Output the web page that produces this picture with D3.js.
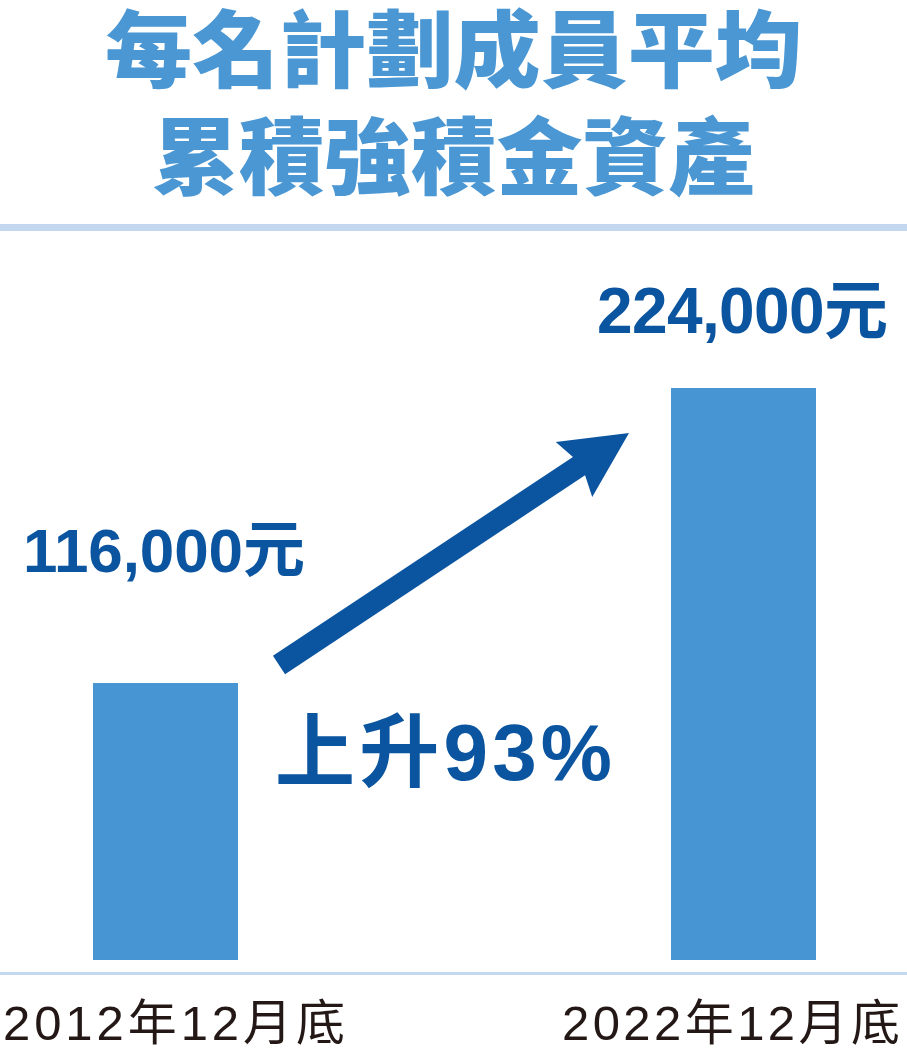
<!DOCTYPE html>
<html><head><meta charset="utf-8">
<script src="https://cdn.jsdelivr.net/npm/d3@7/dist/d3.min.js"></script>
<style>
html,body{margin:0;padding:0;background:#fff;}
svg{display:block;}
</style></head>
<body>
<svg id="chart" width="907" height="1051"></svg>
<script>
const titleLines = ["每名計劃成員平均", "累積強積金資產"];
const categories = ["2012年12月底", "2022年12月底"];
const values = [116000, 224000];
const valueLabels = ["116,000元", "224,000元"];
const changeLabel = "上升93%";

const svg = d3.select("#chart");
const W = 907, H = 1051;

const BAR = "#4795d2", DARK = "#0b55a0", TITLE = "#4a97d3", RULE = "#c3d7ee";

// scales
const x = d3.scalePoint().domain(categories).range([165.5, 743.5]);
const bw = 145;
const xc = d => x(d);
const y = d3.scaleLinear().domain([14600, 224000]).range([960, 388]);

// title (one text element, two lines)
const title = svg.append("text")
  .attr("text-anchor", "middle")
  .attr("font-family", "'Noto Sans CJK TC', 'Noto Sans CJK SC', sans-serif")
  .attr("font-weight", 900)
  .attr("font-size", 84)
  .attr("fill", TITLE);
title.selectAll("tspan").data(titleLines).enter().append("tspan")
  .attr("x", W / 2)
  .attr("y", (d, i) => 81 + i * 107)
  .attr("textLength", (d, i) => i === 0 ? 697 : 602)
  .attr("lengthAdjust", "spacingAndGlyphs")
  .text(d => d);

// top rule
svg.append("rect").attr("x", 0).attr("y", 224).attr("width", W).attr("height", 7).attr("fill", RULE);

// bars
const data = categories.map((c, i) => ({ c, v: values[i], label: valueLabels[i] }));
svg.selectAll("rect.bar").data(data).enter().append("rect")
  .attr("class", "bar")
  .attr("x", d => xc(d.c) - bw / 2)
  .attr("width", bw)
  .attr("y", d => y(d.v))
  .attr("height", d => y.range()[0] - y(d.v))
  .attr("fill", BAR);

// baseline
svg.append("rect").attr("x", 0).attr("y", 972).attr("width", W).attr("height", 3).attr("fill", RULE);

// category labels
svg.selectAll("text.cat").data(categories).enter().append("text")
  .attr("class", "cat")
  .attr("x", (d, i) => i === 0 ? 3 : 562)
  .attr("y", 1040)
  .attr("font-family", "'Liberation Sans', 'Noto Sans CJK TC', sans-serif")
  .attr("font-size", 49)
  .attr("fill", "#231815")
  .attr("textLength", (d, i) => i === 0 ? 342 : 338)
  .attr("lengthAdjust", "spacing")
  .text(d => d);

// value labels
const vlPos = [
  { x: 23, y: 572, size: 62, len: 282 },
  { x: 597, y: 333, size: 64, len: 291 }
];
svg.selectAll("text.val").data(data).enter().append("text")
  .attr("class", "val")
  .attr("x", (d, i) => vlPos[i].x)
  .attr("y", (d, i) => vlPos[i].y)
  .attr("font-family", "'Liberation Sans', 'Noto Sans CJK TC', sans-serif")
  .attr("font-weight", "bold")
  .attr("font-size", (d, i) => vlPos[i].size)
  .attr("fill", DARK)
  .attr("textLength", (d, i) => vlPos[i].len)
  .attr("lengthAdjust", "spacing")
  .text(d => d.label);

// arrow derived from bars
const x0 = xc(categories[0]) + bw / 2 + 41, y0 = y(values[0]) - 18;
const x1 = xc(categories[1]) - bw / 2 - 42, y1 = y(values[1]) + 45;
const len = Math.hypot(x1 - x0, y1 - y0);
const ang = Math.atan2(y1 - y0, x1 - x0) * 180 / Math.PI;
const hw = 11, headL = 66, notch = 60, headW = 33;
const pts = [
  [0, -hw], [len - notch, -hw], [len - headL, -headW], [len, 0],
  [len - headL, headW], [len - notch, hw], [0, hw]
];
svg.append("polygon")
  .attr("points", pts.map(p => p.join(",")).join(" "))
  .attr("transform", `translate(${x0},${y0}) rotate(${ang})`)
  .attr("fill", DARK);

// change label
svg.append("text")
  .attr("x", 275).attr("y", 780)
  .attr("font-family", "'Liberation Sans', 'Noto Sans CJK TC', sans-serif")
  .attr("font-weight", "bold")
  .attr("font-size", 80)
  .attr("fill", DARK)
  .attr("textLength", 337)
  .attr("lengthAdjust", "spacing")
  .text(changeLabel);
</script>
</body></html>
